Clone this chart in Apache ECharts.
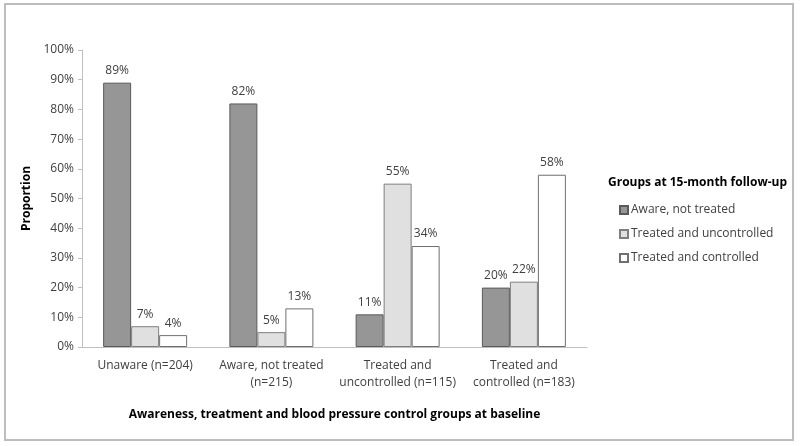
<!DOCTYPE html>
<html><head><meta charset="utf-8">
<script src="https://cdn.jsdelivr.net/npm/echarts@6/dist/echarts.min.js"></script>
<style>html,body{margin:0;padding:0;background:#fff}#c{width:800px;height:446px}</style>
</head><body><div id="c"></div>
<script>
var categories = ['Unaware (n=204)', 'Aware, not treated\n(n=215)', 'Treated and\nuncontrolled (n=115)', 'Treated and\ncontrolled (n=183)'];
var seriesNames = ['Aware, not treated', 'Treated and uncontrolled', 'Treated and controlled'];
var awareNotTreated = [89, 82, 11, 20];
var treatedUncontrolled = [7, 5, 55, 22];
var treatedControlled = [4, 13, 34, 58];
var yTicks = [0, 10, 20, 30, 40, 50, 60, 70, 80, 90, 100];

var fills = ['#969696', '#e0e0e0', '#ffffff'];
var borders = ['#5a5a5a', '#7f7f7f', '#6f6f6f'];
var font = 'Open Sans, Liberation Sans, sans-serif';
var txt = '#404040';
var data = [awareNotTreated, treatedUncontrolled, treatedControlled];

var chart = echarts.init(document.getElementById('c'));
chart.setOption({
  animation: false,
  backgroundColor: '#fff',
  grid: { left: 82, right: 213, top: 50, bottom: 99 },
  graphic: [
    { type: 'rect', shape: { x: 5, y: 4, width: 788, height: 436 }, style: { fill: 'none', stroke: '#bdbdbd', lineWidth: 2 } },
    { type: 'text', left: 608, top: 177, style: { text: 'Groups at 15-month follow-up', font: 'bold 12px ' + font, fill: '#000' } }
  ],
  legend: {
    data: seriesNames,
    orient: 'vertical',
    left: 614, top: 199,
    itemWidth: 8, itemHeight: 8, itemGap: 12,
    icon: 'rect',
    textStyle: { fontFamily: font, fontSize: 12, color: txt, padding: [0, 0, 0, -2] }
  },
  xAxis: {
    type: 'category', data: categories,
    name: 'Awareness, treatment and blood pressure control groups at baseline',
    nameLocation: 'middle', nameGap: 62,
    nameTextStyle: { fontFamily: font, fontSize: 12, fontWeight: 'bold', color: '#000' },
    axisLine: { lineStyle: { color: '#bfbfbf', width: 1 } },
    axisTick: { show: false },
    axisLabel: { fontFamily: font, fontSize: 12, color: txt, margin: 10, lineHeight: 17, interval: 0 }
  },
  yAxis: {
    type: 'value', min: 0, max: 100, interval: 10,
    name: 'Proportion', nameLocation: 'middle', nameGap: 48, nameRotate: 90,
    nameTextStyle: { fontFamily: font, fontSize: 12, fontWeight: 'bold', color: '#000' },
    axisLine: { show: true, lineStyle: { color: '#bfbfbf' } },
    axisTick: { show: true, length: 4, lineStyle: { color: '#bfbfbf' } },
    splitLine: { show: false },
    axisLabel: { fontFamily: font, fontSize: 12, color: txt, margin: 8,
      formatter: function (v) { return yTicks.indexOf(v) >= 0 ? v + '%' : ''; } }
  },
  series: data.map(function (d, i) {
    return {
      type: 'bar', name: seriesNames[i], data: d,
      barWidth: 28, barGap: '0%',
      itemStyle: { color: fills[i], borderColor: borders[i], borderWidth: 1 },
      label: { show: true, position: 'top', distance: 6, formatter: '{c}%', fontFamily: font, fontSize: 12, color: txt }
    };
  })
});
</script></body></html>
